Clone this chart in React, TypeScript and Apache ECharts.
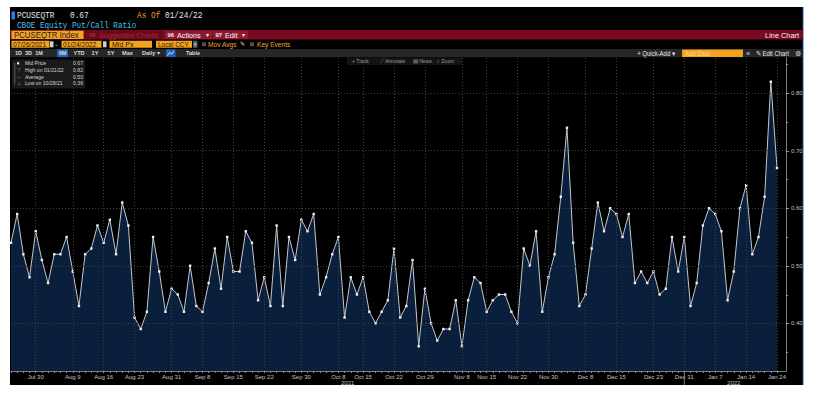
import React, { useEffect, useRef } from "react";
import * as echarts from "echarts";

// ---- Data (PCUSEQTR Index, daily, 07/26/2021 - 01/24/2022) ----
const TICKER = "PCUSEQTR";
const DESCRIPTION = "CBOE Equity Put/Call Ratio";
const AS_OF = "01/24/22";
const START_DATE = "2021-07-26";
const END_DATE = "2022-01-24";
// days without a print in the series
const NO_DATA_DAYS = ["2021-09-06", "2021-10-11", "2021-11-11", "2021-11-25", "2021-12-24", "2022-01-17"];
const VALUES = [
  0.54, 0.59, 0.52, 0.48, 0.56, 0.51, 0.47, 0.52, 0.52, 0.55,
  0.49, 0.43, 0.52, 0.53, 0.57, 0.54, 0.58, 0.52, 0.61, 0.57,
  0.41, 0.39, 0.42, 0.55, 0.49, 0.42, 0.46, 0.45, 0.42, 0.50,
  0.43, 0.42, 0.47, 0.53, 0.46, 0.55, 0.49, 0.49, 0.56, 0.54,
  0.44, 0.48, 0.43,
  0.57, 0.43, 0.55, 0.51, 0.58, 0.56, 0.59, 0.45, 0.48, 0.52,
  0.55, 0.41, 0.48, 0.45, 0.48, 0.42, 0.40, 0.42, 0.44, 0.53,
  0.41, 0.43, 0.51, 0.36, 0.46, 0.40, 0.37, 0.39, 0.39, 0.44,
  0.36, 0.44, 0.48, 0.47, 0.42, 0.44, 0.45, 0.45, 0.42, 0.40,
  0.53, 0.50,
  0.56, 0.42, 0.48, 0.52, 0.62, 0.74, 0.54, 0.43, 0.45, 0.53,
  0.61, 0.56, 0.60, 0.59, 0.55, 0.59, 0.47, 0.49, 0.47, 0.49,
  0.45, 0.46, 0.55, 0.49, 0.55, 0.43, 0.47, 0.57, 0.60, 0.59,
  0.56, 0.44, 0.49, 0.60, 0.64, 0.52, 0.55, 0.62, 0.82, 0.67,
];
const X_TICK_DATES = [
  "2021-07-30", "2021-08-09", "2021-08-16", "2021-08-23", "2021-08-31", "2021-09-08",
  "2021-09-15", "2021-09-22", "2021-09-30", "2021-10-08", "2021-10-15", "2021-10-22",
  "2021-10-29", "2021-11-08", "2021-11-15", "2021-11-22", "2021-11-30", "2021-12-08",
  "2021-12-15", "2021-12-23", "2021-12-31", "2022-01-07", "2022-01-14", "2022-01-24",
];
const Y_LABELS = [0.4, 0.5, 0.6, 0.7, 0.8];
const Y_TICKS = [0.35, 0.4, 0.45, 0.5, 0.55, 0.6, 0.65, 0.7, 0.75, 0.8, 0.85];
const MONTHS = ["Jan", "Feb", "Mar", "Apr", "May", "Jun", "Jul", "Aug", "Sep", "Oct", "Nov", "Dec"];
const Y_MIN = 0.317;
const Y_MAX = 0.863;

function seriesDates(): string[] {
  const out: string[] = [];
  const d = new Date(START_DATE + "T00:00:00Z");
  const end = new Date(END_DATE + "T00:00:00Z").getTime();
  while (d.getTime() <= end) {
    const wd = d.getUTCDay();
    const s = d.toISOString().slice(0, 10);
    if (wd !== 0 && wd !== 6 && NO_DATA_DAYS.indexOf(s) < 0) out.push(s);
    d.setUTCDate(d.getUTCDate() + 1);
  }
  return out;
}

const MONO = "'Liberation Mono', 'DejaVu Sans Mono', monospace";
const SANS = "'Liberation Sans', Arial, sans-serif";

type TOpts = { family?: string; bold?: boolean; align?: string; sx?: number; z?: number };
function txt(x: number, y: number, text: string, size: number, fill: string, o: TOpts = {}) {
  return {
    type: "text",
    x,
    y,
    scaleX: o.sx ?? 1,
    silent: true,
    z: o.z ?? 20,
    style: {
      text,
      fill,
      font: `${o.bold ? "bold " : ""}${size}px ${o.family ?? SANS}`,
      textAlign: o.align ?? "left",
      textVerticalAlign: "middle",
    },
  };
}
function box(x: number, y: number, w: number, h: number, fill: string, z = 20) {
  return { type: "rect", silent: true, z, shape: { x, y, width: w, height: h }, style: { fill } };
}
function seg(x1: number, y1: number, x2: number, y2: number, stroke: string, z = 21) {
  return { type: "line", silent: true, z, shape: { x1, y1, x2, y2 }, style: { stroke, lineWidth: 1 } };
}

export default function App() {
  const ref = useRef<HTMLDivElement>(null);

  useEffect(() => {
    if (!ref.current) return;
    const chart = echarts.init(ref.current, null, { renderer: "svg" });
    const dates = seriesDates();
    const n = VALUES.length;
    const idxOf = (s: string) => dates.indexOf(s);
    const tickIdx = X_TICK_DATES.map(idxOf).filter((i) => i >= 0);
    const fmtTick = (i: number) => {
      const s = dates[Math.round(i)];
      if (!s) return "";
      return MONTHS[parseInt(s.slice(5, 7), 10) - 1] + " " + parseInt(s.slice(8, 10), 10);
    };
    const usDate = (s: string) => `${s.slice(5, 7)}/${s.slice(8, 10)}/${s.slice(2, 4)}`;
    const last = VALUES[n - 1];
    let hi = 0, lo = 0;
    VALUES.forEach((v, i) => {
      if (v > VALUES[hi]) hi = i;
      if (v < VALUES[lo]) lo = i;
    });
    const avg = VALUES.reduce((a, b) => a + b, 0) / n;
    const xMax = (n - 1) * 775 / 766;

    const header: any[] = [
      box(10, 7, 793, 378, "#000000", 0),
      box(802.5, 7, 1, 378, "#1f5aa6", 1),
      // row 1
      box(11.5, 11.5, 3.5, 8, "#2f7fe0"),
      txt(17, 15.5, TICKER, 8.5, "#e6e6e6", { family: MONO, sx: 0.92 }),
      txt(70, 15.5, last.toFixed(2), 8.5, "#e6e6e6", { family: MONO, sx: 0.92 }),
      txt(137, 15.5, "As Of", 8.5, "#f0a030", { family: MONO, sx: 0.92 }),
      txt(165, 15.5, AS_OF, 8.5, "#e6e6e6", { family: MONO, sx: 0.92 }),
      // row 2
      txt(17, 25, DESCRIPTION, 8.5, "#4cc0e6", { family: MONO, sx: 0.9 }),
      // row 3
      box(10, 30, 793, 9.5, "#7b0a20"),
      box(11.5, 30.7, 72, 8.3, "#f5a21f"),
      txt(14, 35, TICKER + " Index", 8.5, "#1a1a1a", { sx: 0.92 }),
      box(85, 30.7, 78, 8.3, "#6d0819"),
      txt(89, 35, "98", 6, "#9c2c40", { bold: true }),
      txt(99, 35, "Suggested Charts", 8, "#9c2c40", { sx: 0.92 }),
      box(165, 30.7, 47, 8.3, "#8f1a30"),
      txt(167.5, 35, "96", 6, "#e8e8e8", { bold: true }),
      txt(177, 35, "Actions", 8, "#f2f2f2", { sx: 0.9 }),
      txt(207, 35, "▾", 6, "#f2f2f2", { align: "center" }),
      box(213, 30.7, 35, 8.3, "#8f1a30"),
      txt(215.5, 35, "97", 6, "#e8e8e8", { bold: true }),
      txt(225, 35, "Edit", 8, "#f2f2f2", { sx: 0.9 }),
      txt(243, 35, "▾", 6, "#f2f2f2", { align: "center" }),
      txt(799, 35, "Line Chart", 8, "#f2f2f2", { align: "right", sx: 0.92 }),
      // row 4
      box(11.5, 40.8, 38, 7, "#f5a21f"),
      txt(13, 44.4, "07/26/2021", 7, "#2a1800", { sx: 0.95 }),
      box(50, 41.3, 3.5, 6, "#cfcfcf"),
      txt(56.5, 44.4, "-", 7, "#dddddd", { align: "center" }),
      box(61.5, 40.8, 40, 7, "#f5a21f"),
      txt(63, 44.4, "01/24/2022", 7, "#2a1800", { sx: 0.95 }),
      box(103, 41.3, 3.5, 6, "#cfcfcf"),
      box(109.5, 40.8, 42.5, 7, "#f5a21f"),
      txt(112, 44.4, "Mid Px", 7, "#2a1800"),
      box(156, 40.8, 36, 7, "#f5a21f"),
      txt(158, 44.4, "Local CCY", 7, "#2a1800", { sx: 0.92 }),
      box(193, 40.8, 4.5, 7, "#5a5a5a"),
      txt(195.3, 44.4, "▾", 5, "#dddddd", { align: "center" }),
      box(202, 42.3, 4, 4, "#4d4d4d"),
      txt(208, 44.4, "Mov Avgs", 7.5, "#f0a030", { sx: 0.88 }),
      txt(240, 44.4, "✎", 6, "#dddddd"),
      box(250, 42.3, 4, 4, "#4d4d4d"),
      txt(257, 44.4, "Key Events", 7.5, "#f0a030", { sx: 0.88 }),
      // row 5
      box(10, 49, 793, 8.3, "#262626"),
      box(57, 49.4, 11, 7.6, "#2563c0"),
      box(166, 49.4, 9.5, 7.6, "#2563c0"),
      {
        type: "polyline",
        silent: true,
        z: 21,
        shape: { points: [[167.5, 55.5], [169.5, 52.5], [171.5, 54], [174, 51]] },
        style: { stroke: "#ffffff", lineWidth: 0.8, fill: null },
      },
      ...[
        ["1D", 18.5], ["3D", 28.5], ["1M", 39], ["6M", 62.5], ["YTD", 79], ["1Y", 95],
        ["5Y", 111], ["Max", 127.5], ["Table", 193],
      ].map(([t, x]) => txt(x as number, 53.2, t as string, 6.2, "#d9d9d9", { bold: true, align: "center", sx: 0.9 })),
      txt(142, 53.2, "Daily", 6.2, "#d9d9d9", { bold: true, sx: 0.9 }),
      txt(158, 53.2, "▾", 5.5, "#d9d9d9", { align: "center" }),
      txt(656, 53.2, "+ Quick-Add ▾", 6.5, "#e6e6e6", { align: "center", sx: 0.92 }),
      box(682, 49.4, 61, 7.6, "#f5a21f"),
      txt(685, 53.2, "Add Data", 6.5, "#ffd99c", { sx: 0.92 }),
      txt(748, 53.2, "«", 7.5, "#dddddd", { align: "center" }),
      txt(756, 53.2, "✎ Edit Chart", 6.5, "#e6e6e6", { sx: 0.92 }),
      txt(797.5, 53.2, "⚙", 7, "#dddddd", { align: "center" }),
      // chart toolbar
      box(347, 57.5, 115, 7.5, "#141414"),
      txt(352, 61.3, "+ Track", 5.5, "#9a9a9a", { sx: 0.92 }),
      txt(380, 61.3, "⟋ Annotate", 5.5, "#9a9a9a", { sx: 0.92 }),
      txt(413, 61.3, "▤ News", 5.5, "#9a9a9a", { sx: 0.92 }),
      txt(437, 61.3, "⌕ Zoom", 5.5, "#9a9a9a", { sx: 0.92 }),
      // stats box
      box(12, 59.5, 73, 29, "#1a1a1a"),
      seg(14.8, 63, 14.8, 84.5, "#5e5e5e"),
      box(17, 62.2, 2.2, 2.2, "#e8e8e8", 22),
      txt(17, 70, "⊤", 5, "#9a9a9a"),
      txt(17, 76.7, "--", 5, "#9a9a9a"),
      txt(17, 83.3, "⊥", 5, "#9a9a9a"),
      txt(25, 63.3, "Mid Price", 6, "#d6d6d6", { sx: 0.85 }),
      txt(25, 70, "High on " + usDate(dates[hi]), 6, "#d6d6d6", { sx: 0.85 }),
      txt(25, 76.7, "Average", 6, "#d6d6d6", { sx: 0.85 }),
      txt(25, 83.3, "Low on " + usDate(dates[lo]), 6, "#d6d6d6", { sx: 0.85 }),
      txt(83, 63.3, last.toFixed(2), 6, "#d6d6d6", { align: "right", sx: 0.85 }),
      txt(83, 70, VALUES[hi].toFixed(2), 6, "#d6d6d6", { align: "right", sx: 0.85 }),
      txt(83, 76.7, avg.toFixed(2), 6, "#d6d6d6", { align: "right", sx: 0.85 }),
      txt(83, 83.3, VALUES[lo].toFixed(2), 6, "#d6d6d6", { align: "right", sx: 0.85 }),
    ];

    const gridLine = { color: "#3e3e3e", type: [1, 2], width: 1 };

    const build = (extra: any[]) => ({
      animation: false,
      backgroundColor: "transparent",
      grid: { left: 11, top: 57, width: 775, height: 314, containLabel: false },
      xAxis: {
        type: "value",
        min: 0,
        max: xMax,
        axisLine: { show: true, onZero: false, lineStyle: { color: "#7c7c7c", width: 1 } },
        axisTick: { show: true, customValues: VALUES.map((_, i) => i), length: 2, lineStyle: { color: "#8a8a8a" } },
        axisLabel: {
          customValues: tickIdx,
          formatter: (v: number) => fmtTick(v),
          fontSize: 6,
          color: "#c2c2c2",
          margin: 3,
          fontFamily: SANS,
        },
        splitLine: { show: false },
      },
      yAxis: {
        type: "value",
        position: "right",
        min: Y_MIN,
        max: Y_MAX,
        axisLine: { show: true, onZero: false, lineStyle: { color: "#7c7c7c", width: 1 } },
        axisTick: { show: false },
        axisLabel: {
          customValues: Y_LABELS,
          formatter: (v: number) => v.toFixed(2),
          fontSize: 6,
          color: "#c2c2c2",
          margin: 5,
          fontFamily: SANS,
        },
        splitLine: { show: false },
      },
      series: [
        {
          type: "line",
          data: VALUES.map((v, i) => [i, v]),
          z: 3,
          symbol: "rect",
          symbolSize: 2.4,
          showSymbol: true,
          itemStyle: { color: "#f0f0f0" },
          lineStyle: { color: "#c3c7ce", width: 1 },
          areaStyle: { color: "#0a1f3c", opacity: 1, origin: "start" },
          markLine: {
            silent: true,
            symbol: "none",
            animation: false,
            label: { show: false },
            lineStyle: gridLine,
            data: [
              ...tickIdx.map((i) => ({ xAxis: i })),
              ...Y_LABELS.map((v) => ({ yAxis: v })),
              {
                yAxis: last,
                lineStyle: { opacity: 0 },
                label: {
                  show: true,
                  position: "end",
                  distance: 3,
                  formatter: last.toFixed(2),
                  backgroundColor: "#f4f4f4",
                  color: "#000",
                  fontSize: 6,
                  fontFamily: SANS,
                  padding: [1, 1.5, 0.5, 1.5],
                },
              },
            ],
          },
        },
      ],
      graphic: { elements: [...header, ...extra] },
    });

    chart.setOption(build([]));

    const px = (i: number, v: number) => chart.convertToPixel({ gridIndex: 0 } as any, [i, v]) as number[];
    const firstNew = dates.findIndex((s) => s.slice(0, 4) === "2022");
    const lastOld = firstNew - 1;
    const sep = px(lastOld, Y_MIN);
    const y21 = px(lastOld / 2, Y_MIN);
    const y22 = px((firstNew + n - 1) / 2, Y_MIN);
    const axisX = px(xMax, Y_MIN)[0];
    const extra: any[] = [
      seg(sep[0], sep[1], sep[0], sep[1] + 14, "#7c7c7c"),
      txt(y21[0], sep[1] + 12, dates[lastOld].slice(0, 4), 6, "#c2c2c2", { align: "center" }),
      txt(y22[0], sep[1] + 12, dates[firstNew].slice(0, 4), 6, "#c2c2c2", { align: "center" }),
      ...Y_TICKS.map((v) => {
        const y = Math.round(px(0, v)[1]) + 0.5;
        const major = Y_LABELS.some((l) => Math.abs(l - v) < 1e-9);
        return seg(axisX, y, axisX + (major ? 3 : 2), y, "#9a9a9a");
      }),
    ];
    chart.setOption(build(extra), true);

    return () => chart.dispose();
  }, []);

  return (
    <div
      ref={ref}
      style={{ position: "fixed", left: 0, top: 0, width: 816, height: 393, background: "#ffffff" }}
    />
  );
}
